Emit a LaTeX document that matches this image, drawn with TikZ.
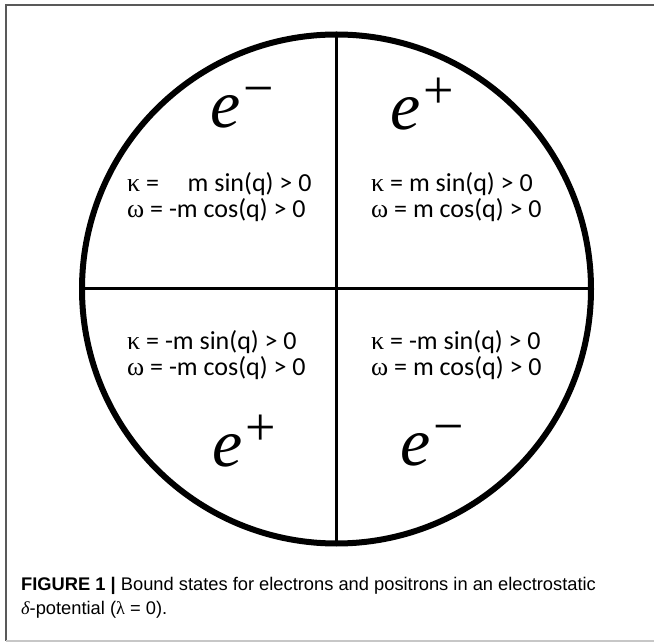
\documentclass[tikz,border=0pt]{standalone}
\usepackage{fontspec}
\setmainfont{Liberation Sans}
\newfontfamily\bodyfont{Carlito}
\newfontfamily\symfont{Liberation Serif}
\usetikzlibrary{positioning}
\newcommand{\kap}{{\symfont κ}}
\newcommand{\omg}{{\symfont ω}}
\newcommand{\charge}[1]{{\itshape e}\kern3pt\raisebox{0.32em}{\fontsize{54}{54}\selectfont #1}}

\begin{document}
\begin{tikzpicture}[x=1pt,y=-1pt,
 frame/.style={line width=1.4pt},
 disk/.style={circle,draw,line width=6pt,minimum size=509pt,inner sep=0pt,outer sep=0pt},
 axis/.style={line width=3pt},
 particle/.style={anchor=base west,inner sep=0pt,font=\symfont\fontsize{68}{68}\selectfont},
 cond/.style={anchor=west,align=left,inner sep=0pt,font=\bodyfont\fontsize{26}{26}\selectfont},
 capline/.style={anchor=base west,inner sep=0pt,font=\fontsize{18.3}{22}\selectfont}]
\useasboundingbox (0,0) rectangle (654,644);
% frame around figure
\draw[frame,black!65] (654,5) -- (6,5) -- (6,641);
\draw[frame,black!22] (6,641) -- (654,641);
% circle split in four
\node[disk] (disk) at (336.5,289) {};
\draw[axis] (disk.north) -- (disk.south);
\draw[axis] (disk.west) -- (disk.east);
% particles
\node[particle] (em1) at (210,128) {\charge{−}};
\node[particle] (ep1) at (390,130) {\charge{+}};
\node[particle] (ep2) at (212,467) {\charge{+}};
\node[particle] (em2) at (400,466) {\charge{−}};
% conditions
\node[cond] (tl) at (127,197) {\kap{} =\hspace{1.1em}m sin(q) > 0\\[0pt]\omg{} = -m cos(q) > 0};
\node[cond] (tr) at (371,197) {\kap{} = m sin(q) > 0\\[0pt]\omg{} = m cos(q) > 0};
\node[cond] (bl) at (127,355) {\kap{} = -m sin(q) > 0\\[0pt]\omg{} = -m cos(q) > 0};
\node[cond] (br) at (371,355) {\kap{} = -m sin(q) > 0\\[0pt]\omg{} = m cos(q) > 0};
% caption
\node[capline] (cap1) at (21,590) {\textbf{FIGURE 1 |} Bound states for electrons and positrons in an electrostatic};
\node[capline] (cap2) at (21,614) {{\symfont\itshape δ}-potential ({\symfont λ} = 0).};
\end{tikzpicture}
\end{document}
